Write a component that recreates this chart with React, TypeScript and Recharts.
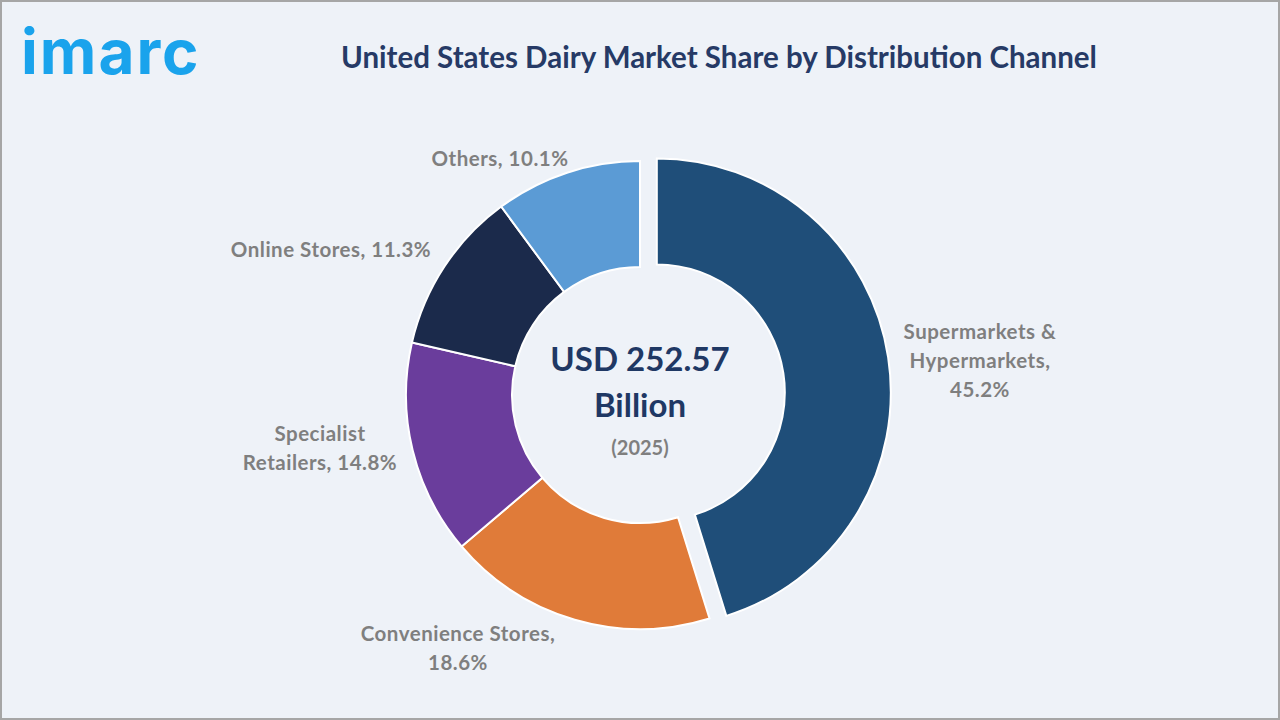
import React from "react";
import { PieChart, Pie, Cell } from "recharts";

// distribution channels, clockwise from 12 o'clock
const CHANNELS = [
  "Supermarkets & Hypermarkets",
  "Convenience Stores",
  "Specialist Retailers",
  "Online Stores",
  "Others",
];
const SHARES = [45.2, 18.6, 14.8, 11.3, 10.1];

// how each label is broken into lines
const LABEL_TEXT = ["Supermarkets &\nHypermarkets", "Convenience Stores", "Specialist\nRetailers", "Online Stores", "Others"];
const VALUE_ON_NEW_LINE = [true, true, false, false, false];

const MARKET_SIZE = "USD 252.57";
const MARKET_UNIT = "Billion";
const MARKET_YEAR = "(2025)";

const COLORS = ["#1f4e79", "#e07b39", "#6a3d9c", "#1b2a4b", "#5b9bd5"];

const W = 1280;
const H = 720;
// pie centre on the page (the chart adds its 5px margin to cx / cy)
const CX = 640;
const CY = 395;
const MARGIN = 5;
const INNER = 128;
const OUTER = 234;
const EXPLODE = 17;
const FONT = "Lato, 'Open Sans', sans-serif";

// label block centres, relative to the pie centre
const LABEL_OFFSETS: [number, number][] = [
  [340, -35],
  [-182, 252],
  [-320, 52],
  [-309, -146],
  [-140, -237],
];
const LINE_H = 29;

const data = CHANNELS.map((name, i) => ({ name, value: SHARES[i] }));
const total = SHARES.reduce((a, b) => a + b, 0);

// the first slice is pulled out along its mid angle
const midDeg = 90 - ((SHARES[0] / total) * 360) / 2;
const dx = EXPLODE * Math.cos((midDeg * Math.PI) / 180);
const dy = -EXPLODE * Math.sin((midDeg * Math.PI) / 180);

function renderLabel(props: any) {
  const { cx, cy, index, value } = props;
  const [ox, oy] = LABEL_OFFSETS[index];
  const text = `${LABEL_TEXT[index]},${VALUE_ON_NEW_LINE[index] ? "\n" : " "}${value}%`;
  const lines = text.split("\n");
  const top = cy + oy - ((lines.length - 1) * LINE_H) / 2;
  return (
    <text
      key={`lbl-${index}`}
      x={cx + ox}
      y={top}
      textAnchor="middle"
      dominantBaseline="central"
      fill="#7f7f7f"
      fontSize={20.5}
      fontWeight={700}
      letterSpacing={0.5}
      fontFamily={FONT}
    >
      {lines.map((l, j) => (
        <tspan key={j} x={cx + ox} y={top + j * LINE_H}>
          {l}
        </tspan>
      ))}
    </text>
  );
}

export default function App() {
  return (
    <div
      style={{
        position: "relative",
        width: W,
        height: H,
        background: "#eef2f8",
        boxShadow: "inset 0 0 0 2px #a6a6a6",
        fontFamily: FONT,
        overflow: "hidden",
      }}
    >
      <style>{"body{margin:0}"}</style>
      <div
        style={{
          position: "absolute",
          left: 21,
          top: 14,
          fontFamily: "Inter, sans-serif",
          fontWeight: 700,
          fontSize: 62,
          letterSpacing: 2,
          color: "#1aa3ec",
        }}
      >
        imarc
      </div>
      <div
        style={{
          position: "absolute",
          left: 0,
          width: W,
          top: 39,
          textAlign: "center",
          paddingLeft: 158,
          boxSizing: "border-box",
          fontWeight: 700,
          fontSize: 29.5,
          color: "#263a66",
        }}
      >
        United States Dairy Market Share by Distribution Channel
      </div>
      <div style={{ position: "absolute", left: 0, top: 0 }}>
        <PieChart width={W} height={H}>
          <Pie
            data={data}
            dataKey="value"
            nameKey="name"
            cx={CX - MARGIN}
            cy={CY - MARGIN}
            innerRadius={INNER}
            outerRadius={OUTER}
            startAngle={90}
            endAngle={-270}
            stroke="#ffffff"
            strokeWidth={2}
            label={renderLabel}
            labelLine={false}
            isAnimationActive={false}
          >
            {data.map((_, i) => (
              <Cell key={i} fill={i === 0 ? "transparent" : COLORS[i]} stroke={i === 0 ? "none" : "#ffffff"} />
            ))}
          </Pie>
          <Pie
            data={data}
            dataKey="value"
            nameKey="name"
            cx={CX - MARGIN + dx}
            cy={CY - MARGIN + dy}
            innerRadius={INNER}
            outerRadius={OUTER}
            startAngle={90}
            endAngle={-270}
            stroke="#ffffff"
            strokeWidth={2}
            isAnimationActive={false}
          >
            {data.map((_, i) => (
              <Cell key={i} fill={i === 0 ? COLORS[0] : "transparent"} stroke={i === 0 ? "#ffffff" : "none"} />
            ))}
          </Pie>
        </PieChart>
      </div>
      <div
        style={{
          position: "absolute",
          left: CX - 150,
          width: 300,
          top: CY - 60,
          textAlign: "center",
          color: "#1f3864",
          fontWeight: 700,
          fontSize: 33,
          lineHeight: "46px",
        }}
      >
        <div>{MARKET_SIZE}</div>
        <div>{MARKET_UNIT}</div>
        <div style={{ fontSize: 20, color: "#7f7f7f", lineHeight: "40px" }}>{MARKET_YEAR}</div>
      </div>
    </div>
  );
}
